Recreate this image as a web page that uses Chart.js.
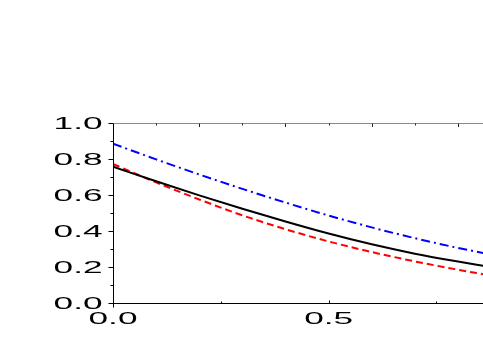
<!DOCTYPE html>
<html>
<head>
<meta charset="utf-8">
<script src="https://cdn.jsdelivr.net/npm/chart.js@4/dist/chart.umd.min.js"></script>
<style>
  html, body { margin: 0; padding: 0; background: #fff; }
  #wrap { width: 483px; height: 345px; }
</style>
</head>
<body>
<div id="wrap"><canvas id="c" width="483" height="345"></canvas></div>
<script>
// ---- data ----
const xValues    = [0.0, 0.1, 0.2, 0.3, 0.4, 0.5, 0.6, 0.7, 0.8, 0.86];
const blackSolid = [0.757, 0.676, 0.598, 0.524, 0.453, 0.386, 0.326, 0.274, 0.230, 0.206];
const redDashed  = [0.772, 0.670, 0.575, 0.487, 0.410, 0.342, 0.283, 0.231, 0.185, 0.159];
const blueDashDot= [0.885, 0.798, 0.714, 0.634, 0.558, 0.486, 0.420, 0.360, 0.306, 0.277];

const xTickValues = [0.0, 0.5];
const xTickLabels = ['0.0', '0.5'];
const xBottomMinor = [0.25, 0.5, 0.75];
const xTopMajor = [0.2, 0.4, 0.6, 0.8];
const xTopMinor = [0.1, 0.3, 0.5, 0.7];
const yTickValues = [0.0, 0.2, 0.4, 0.6, 0.8, 1.0];
const yTickLabels = ['0.0', '0.2', '0.4', '0.6', '0.8', '1.0'];
const yMinorValues = [0.1, 0.3, 0.5, 0.7, 0.9];

const X_MIN = 0, X_MAX = 0.858, Y_MIN = 0, Y_MAX = 1.0;

function pts(ys) { return xValues.map((x, i) => ({ x: x, y: ys[i] })); }

const axesPlugin = {
  id: 'customAxes',
  afterDraw(chart) {
    const ctx = chart.ctx, xs = chart.scales.x, ys = chart.scales.y, a = chart.chartArea;
    const left = Math.round(a.left) + 0.5, top = Math.round(a.top) + 0.5, bottom = Math.round(a.bottom) + 0.5;
    ctx.save();
    ctx.lineWidth = 1;
    // top frame (grey)
    ctx.strokeStyle = '#8a8a8a';
    ctx.beginPath(); ctx.moveTo(left, top); ctx.lineTo(a.right, top); ctx.stroke();
    // top ticks (inward)
    ctx.strokeStyle = '#222';
    xTopMajor.forEach(v => { const px = Math.round(xs.getPixelForValue(v)) + 0.5; ctx.beginPath(); ctx.moveTo(px, top); ctx.lineTo(px, top + 3.5); ctx.stroke(); });
    xTopMinor.forEach(v => { const px = Math.round(xs.getPixelForValue(v)) + 0.5; ctx.beginPath(); ctx.moveTo(px, top); ctx.lineTo(px, top + 2); ctx.stroke(); });
    // bottom axis
    ctx.strokeStyle = '#000';
    ctx.beginPath(); ctx.moveTo(left, bottom); ctx.lineTo(a.right, bottom); ctx.stroke();
    xBottomMinor.forEach(v => { const px = Math.round(xs.getPixelForValue(v)) + 0.5; ctx.beginPath(); ctx.moveTo(px, bottom); ctx.lineTo(px, bottom - (v === 0.5 ? 3 : 2)); ctx.stroke(); });
    // left axis
    ctx.beginPath(); ctx.moveTo(left, top); ctx.lineTo(left, bottom + 4); ctx.stroke();
    yTickValues.forEach(v => { const py = Math.round(ys.getPixelForValue(v)) + 0.5; ctx.beginPath(); ctx.moveTo(left, py); ctx.lineTo(left - 5, py); ctx.stroke(); });
    yMinorValues.forEach(v => { const py = Math.round(ys.getPixelForValue(v)) + 0.5; ctx.beginPath(); ctx.moveTo(left, py); ctx.lineTo(left - 3, py); ctx.stroke(); });
    // labels (wide lettering)
    ctx.fillStyle = '#000';
    ctx.font = '16px "Liberation Sans", Arial, sans-serif';
    ctx.textBaseline = 'alphabetic';
    const SX = 2.2;
    yTickValues.forEach((v, i) => {
      const py = ys.getPixelForValue(v);
      ctx.save(); ctx.translate(a.left - 10.5, py + 5.8); ctx.scale(SX, 1);
      ctx.textAlign = 'right'; ctx.fillText(yTickLabels[i], 0, 0); ctx.restore();
    });
    xTickValues.forEach((v, i) => {
      const px = xs.getPixelForValue(v);
      ctx.save(); ctx.translate(px, a.bottom + 21); ctx.scale(SX, 1);
      ctx.textAlign = 'center'; ctx.fillText(xTickLabels[i], 0, 0); ctx.restore();
    });
    ctx.restore();
  }
};

new Chart(document.getElementById('c'), {
  type: 'line',
  data: {
    datasets: [
      { data: pts(blackSolid), borderColor: '#000000', borderWidth: 2, pointRadius: 0, cubicInterpolationMode: 'monotone', fill: false },
      { data: pts(redDashed), borderColor: '#ff0000', borderWidth: 2, borderDash: [7, 4], pointRadius: 0, cubicInterpolationMode: 'monotone', fill: false },
      { data: pts(blueDashDot), borderColor: '#0000ff', borderWidth: 2, borderDash: [9, 4, 2, 4], pointRadius: 0, cubicInterpolationMode: 'monotone', fill: false }
    ]
  },
  options: {
    responsive: false,
    animation: false,
    events: [],
    layout: { padding: { left: 113, top: 123, right: 0, bottom: 42 } },
    plugins: { legend: { display: false }, tooltip: { enabled: false } },
    scales: {
      x: { type: 'linear', min: X_MIN, max: X_MAX, display: false },
      y: { type: 'linear', min: Y_MIN, max: Y_MAX, display: false }
    }
  },
  plugins: [axesPlugin]
});
</script>
</body>
</html>
